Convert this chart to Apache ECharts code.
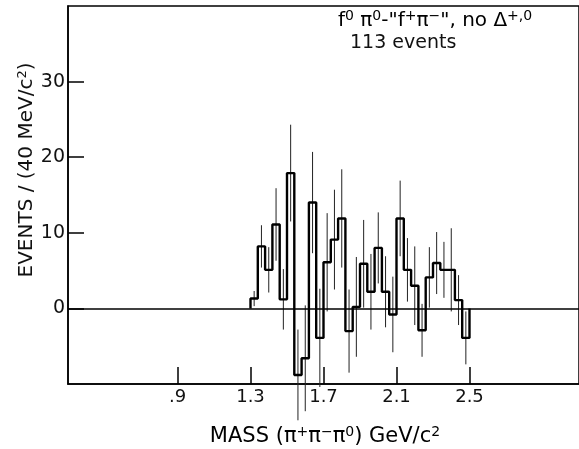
<!DOCTYPE html>
<html>
<head>
<meta charset="utf-8">
<script src="https://cdn.jsdelivr.net/npm/echarts@6/dist/echarts.min.js"></script>
<style>
html,body{margin:0;padding:0;background:#fff;}
#chart{width:579px;height:449px;}
</style>
</head>
<body>
<div id="chart"></div>
<script>
// ---- data ----
const binStart = 1.30;          // GeV/c^2, lower edge of first bin
const binWidth = 0.04;          // 40 MeV/c^2 bins
const counts = [1.3, 8.2, 5.1, 11.1, 1.2, 17.9, -8.8, -6.6, 14.0, -3.9,
                6.1, 9.1, 11.9, -3.0, 0.2, 5.9, 2.2, 8.0, 2.2, -0.8,
                11.9, 5.1, 3.0, -2.9, 4.1, 6.0, 5.1, 5.1, 1.1, -3.9];
const errors = [1.0, 2.8, 3.0, 4.8, 4.0, 6.4, 6.0, 7.0, 6.7, 6.5,
                6.5, 6.6, 6.5, 5.5, 6.6, 5.8, 5.0, 4.7, 4.7, 5.0,
                5.0, 4.2, 5.2, 3.5, 4.0, 4.1, 3.7, 5.5, 3.3, 3.5];
const xTickValues = [0.9, 1.3, 1.7, 2.1, 2.5];
const xTickLabels = ['.9', '1.3', '1.7', '2.1', '2.5'];
const yTickValues = [0, 10, 20, 30];
const yTickLabels = ['0', '10', '20', '30'];

// ---- build series data ----
const stepData = [[binStart, 0]];
counts.forEach((v, i) => {
  stepData.push([binStart + i * binWidth, v]);
  stepData.push([binStart + (i + 1) * binWidth, v]);
});
stepData.push([binStart + counts.length * binWidth, 0]);

const errData = counts.map((v, i) => [binStart + (i + 0.5) * binWidth, v - errors[i], v + errors[i]]);

const FONT = 'DejaVu Sans';
function lookup(vals, labels, v) {
  const k = vals.findIndex(t => Math.abs(t - v) < 1e-6);
  return k >= 0 ? labels[k] : '';
}

const chart = echarts.init(document.getElementById('chart'), null, {renderer: 'canvas'});
const supStyle = {fontFamily: FONT, fontSize: 14, verticalAlign: 'top', lineHeight: 24, color: '#111'};
const nStyle = {fontFamily: FONT, fontSize: 20, lineHeight: 24, color: '#111'};

const option = {
  animation: false,
  backgroundColor: '#fff',
  grid: {left: 68, right: -6, top: 6, bottom: 65, show: true, borderColor: '#000', borderWidth: 1.5, backgroundColor: 'transparent'},
  xAxis: {
    type: 'value', min: 0.3, max: 3.1,
    axisLine: {show: true, onZero: false, lineStyle: {color: '#000', width: 1.5}},
    axisTick: {show: true, inside: true, length: 17, lineStyle: {color: '#000', width: 1.5}, customValues: xTickValues},
    axisLabel: {customValues: xTickValues, formatter: v => lookup(xTickValues, xTickLabels, v),
                fontFamily: FONT, fontSize: 18, color: '#111', margin: 4},
    splitLine: {show: false}
  },
  yAxis: {
    type: 'value', min: -10, max: 40,
    axisLine: {show: true, onZero: false, lineStyle: {color: '#000', width: 1.5}},
    axisTick: {show: true, inside: true, length: 16, lineStyle: {color: '#000', width: 1.5}, customValues: yTickValues},
    axisLabel: {customValues: yTickValues, formatter: v => lookup(yTickValues, yTickLabels, v),
                fontFamily: FONT, fontSize: 19, color: '#111', margin: 3},
    splitLine: {show: false}
  },
  series: [
    {
      type: 'custom',
      data: errData,
      encode: {x: 0, y: [1, 2]},
      z: 2,
      renderItem: function (params, api) {
        const x = api.value(0);
        const p1 = api.coord([x, api.value(1)]);
        const p2 = api.coord([x, api.value(2)]);
        return {type: 'line', shape: {x1: p1[0], y1: p1[1], x2: p2[0], y2: p2[1]},
                style: {stroke: '#222', lineWidth: 1}};
      }
    },
    {
      type: 'line',
      data: stepData,
      showSymbol: false,
      symbol: 'none',
      z: 3,
      lineStyle: {color: '#000', width: 2.4},
      markLine: {
        silent: true, symbol: 'none', label: {show: false},
        lineStyle: {color: '#000', width: 1.5, type: 'solid'},
        data: [{yAxis: 0}]
      }
    }
  ],
  graphic: [
    {
      type: 'text', x: 27, y: 170, rotation: Math.PI / 2,
      style: {text: 'EVENTS / (40 MeV/c{s|2})', align: 'center', verticalAlign: 'middle',
              fontFamily: FONT, fontSize: 20, fill: '#111',
              rich: {s: {fontFamily: FONT, fontSize: 13, verticalAlign: 'top', lineHeight: 22}}}
    },
    {
      type: 'text', x: 325, y: 437,
      style: {text: '{n|MASS (π}{s|+}{n|π}{s|−}{n|π}{s|0}{n|) GeV/c}{s|2}', align: 'center', verticalAlign: 'middle',
              rich: {n: Object.assign({}, nStyle, {fontSize: 21}), s: Object.assign({}, supStyle, {fontSize: 14})}}
    },
    {
      type: 'text', x: 338, y: 21,
      style: {text: '{n|f}{s|0}{n| π}{s|0}{n|-"f}{s|+}{n|π}{s|−}{n|", no Δ}{s|+,0}', align: 'left', verticalAlign: 'middle',
              rich: {n: nStyle, s: supStyle}}
    },
    {
      type: 'text', x: 350, y: 43,
      style: {text: '113 events', align: 'left', verticalAlign: 'middle',
              fontFamily: FONT, fontSize: 19, fill: '#111'}
    }
  ]
};
chart.setOption(option);
</script>
</body>
</html>
